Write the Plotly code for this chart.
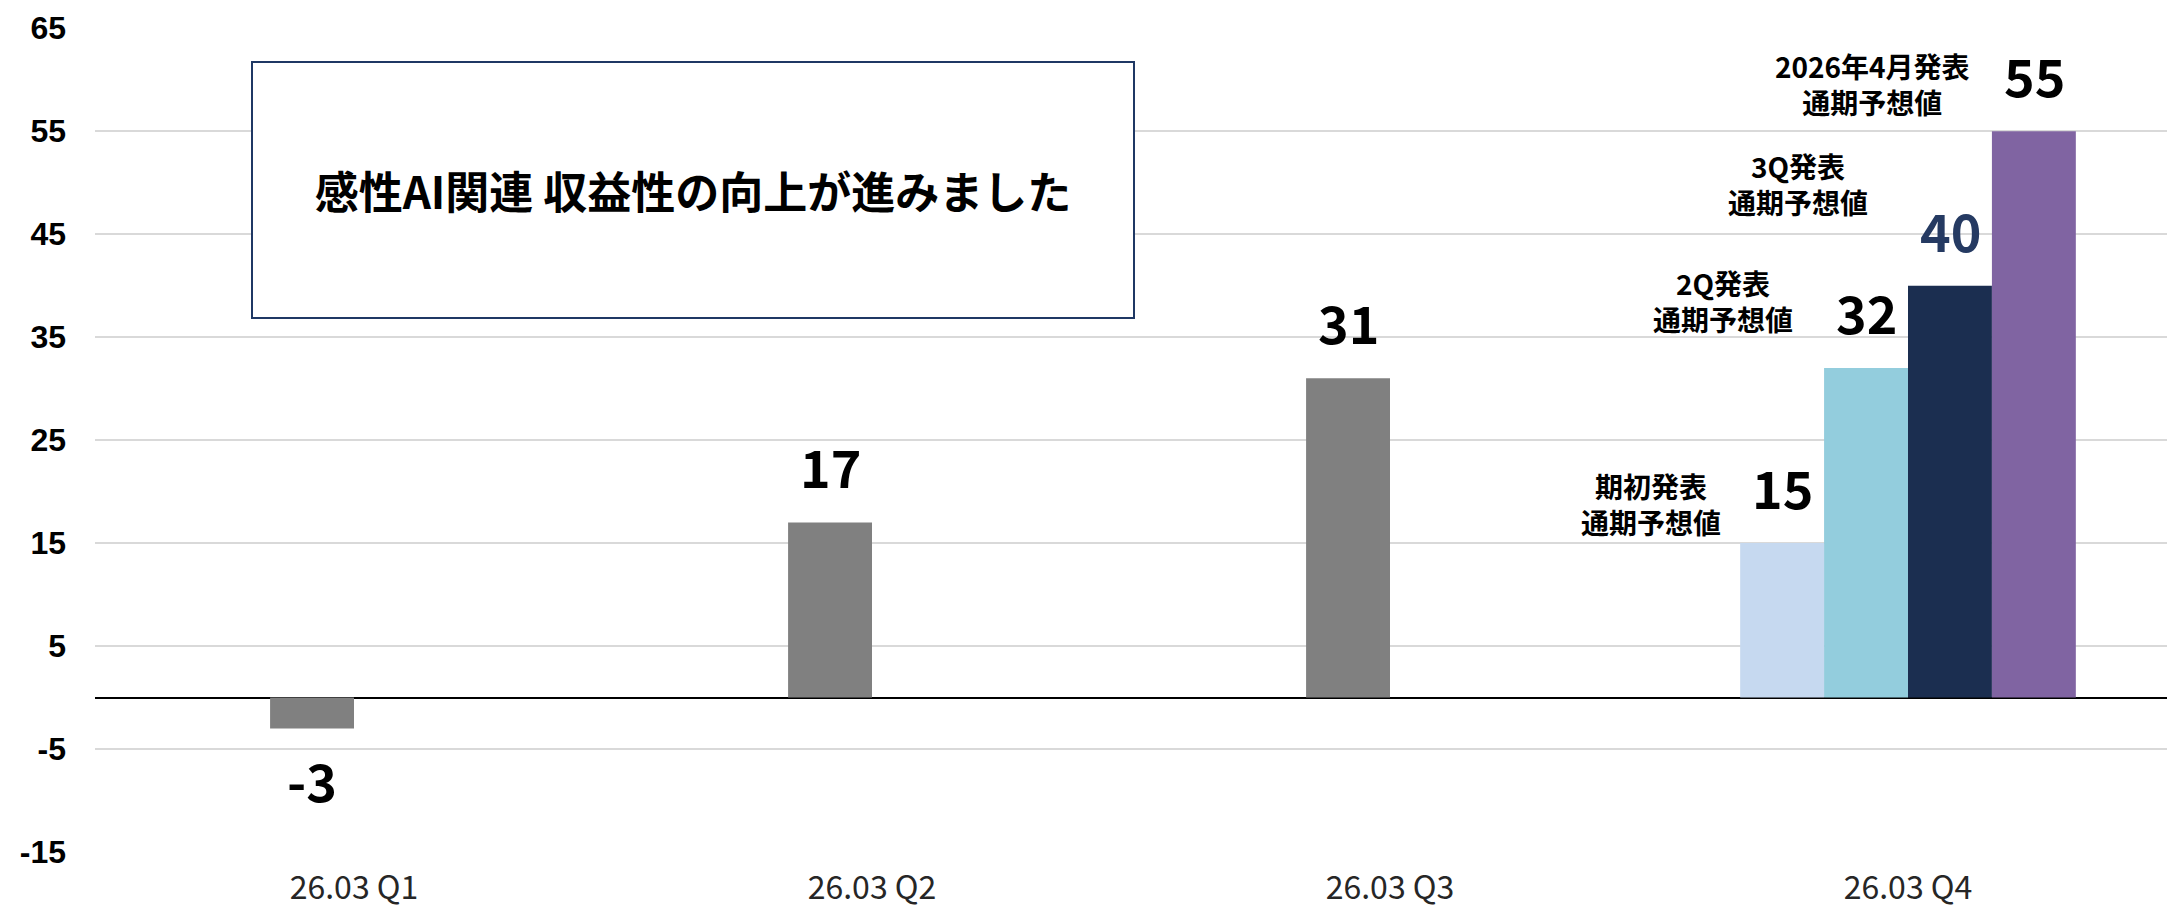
import plotly.graph_objects as go

# ---- data ----
quarters = ["26.03 Q1", "26.03 Q2", "26.03 Q3", "26.03 Q4"]
actual_values = [-3, 17, 31]            # Q1-Q3 results (gray)
forecast_labels = ["期初発表<br>通期予想値", "2Q発表<br>通期予想値",
                   "3Q発表<br>通期予想値", "2026年4月発表<br>通期予想値"]
forecast_values = [15, 32, 40, 55]      # full-year forecasts shown at Q4
y_ticks = [-15, -5, 5, 15, 25, 35, 45, 55, 65]
title_text = "感性AI関連 収益性の向上が進みました"

# ---- styles ----
FONT = "Noto Sans CJK JP"
gray = "#808080"
forecast_colors = ["#C6D9F0", "#93CDDD", "#1B2E50", "#8064A2"]
value_colors = ["#000000", "#000000", "#253A62", "#000000"]
slot_shift = [-126, -42, 42, 126]   # pixel offset of each grouped bar from category centre
label_pos = [(-257, 18.8), (-185, 38.5), (-110, 49.9), (-36, 59.6)]

fig = go.Figure()
n = len(quarters)
for i in range(4):
    if i == 1:
        y = actual_values + [forecast_values[1]]
        colors = [gray] * len(actual_values) + [forecast_colors[1]]
    else:
        y = [None] * (n - 1) + [forecast_values[i]]
        colors = [forecast_colors[i]] * n
    fig.add_trace(go.Bar(x=quarters, y=y, marker=dict(color=colors, line=dict(width=0)),
                         showlegend=False, hoverinfo="x+y"))

annotations = []
# value labels for gray bars (slot 2)
for q, v in zip(quarters[:len(actual_values)], actual_values):
    neg = v < 0
    annotations.append(dict(x=q, y=v, xref="x", yref="y", text="<b>%d</b>" % v, showarrow=False,
                            xshift=slot_shift[1], yshift=-12 if neg else 17,
                            yanchor="top" if neg else "bottom",
                            font=dict(family=FONT, size=52, color="#000000")))
# value labels for forecasts
for i, v in enumerate(forecast_values):
    annotations.append(dict(x=quarters[-1], y=v, xref="x", yref="y", text="<b>%d</b>" % v,
                            showarrow=False, xshift=slot_shift[i], yshift=17, yanchor="bottom",
                            font=dict(family=FONT, size=52, color=value_colors[i])))
# forecast names
for (dx, yy), lab in zip(label_pos, forecast_labels):
    annotations.append(dict(x=quarters[-1], y=yy, xref="x", yref="y", text="<b>%s</b>" % lab,
                            showarrow=False, xshift=dx, yanchor="middle", align="center",
                            font=dict(family=FONT, size=28, color="#000000")))
# title box
annotations.append(dict(x=0.2886, y=0.803, xref="paper", yref="paper", text="<b>%s</b>" % title_text,
                        showarrow=False, xanchor="center", yanchor="middle",
                        width=880, height=254, borderpad=0, borderwidth=2,
                        bordercolor="#1F3864", bgcolor="#FFFFFF",
                        font=dict(family=FONT, size=44, color="#000000")))

fig.update_layout(
    width=2167, height=908,
    margin=dict(l=95, r=0, t=28, b=56),
    paper_bgcolor="#FFFFFF", plot_bgcolor="#FFFFFF",
    barmode="group", bargap=0.352, bargroupgap=0,
    annotations=annotations,
    font=dict(family=FONT),
)
fig.update_xaxes(type="category", showgrid=False, showline=False, ticks="",
                 tickfont=dict(family=FONT, size=32, color="#262626"),
                 ticklabelstandoff=14)
fig.update_yaxes(range=[-15, 65.02], tickmode="array", tickvals=y_ticks,
                 ticktext=["<b>%d</b>" % v for v in y_ticks], showgrid=True,
                 gridcolor="#D9D9D9", gridwidth=1.5,
                 zeroline=True, zerolinecolor="#000000", zerolinewidth=2,
                 showline=False, ticks="", ticklabelstandoff=28,
                 tickfont=dict(family="Liberation Sans", size=32, color="#000000"))

fig.write_html("out.html")
